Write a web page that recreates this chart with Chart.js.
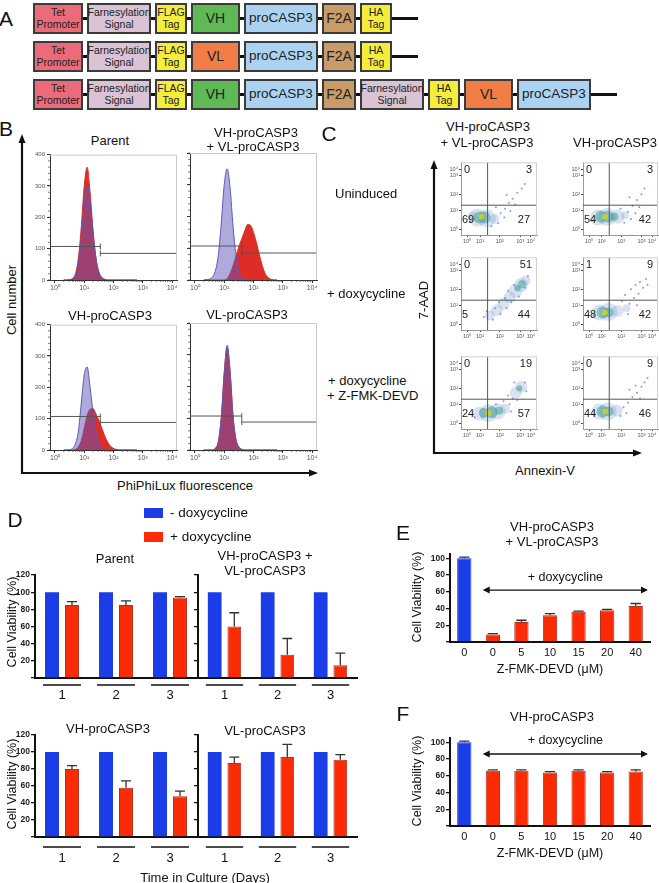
<!DOCTYPE html>
<html>
<head>
<meta charset="utf-8">
<script src="https://cdn.jsdelivr.net/npm/chart.js@4.4.0/dist/chart.umd.min.js"></script>
<style>
body { margin: 0; background: #fff; }
#fig { position: relative; width: 659px; height: 883px; overflow: hidden; background: #fff;
       font-family: Arial, "Liberation Sans", sans-serif; color: #111; }
.t { position: absolute; white-space: nowrap; line-height: 1; }
canvas { position: absolute; }
.box { position: absolute; box-sizing: border-box; border: 2px solid #3b3b3b; display: flex;
       align-items: center; justify-content: center; text-align: center; line-height: 1.05;
       white-space: pre-line; color: #222; }
</style>
</head>
<body>
<div id="fig"></div>
<script>
// ---------- data ----------
// panel A constructs
const constructRow1 = ['Tet Promoter', 'Farnesylation Signal', 'FLAG Tag', 'VH', 'proCASP3', 'F2A', 'HA Tag'];
const constructRow2 = ['Tet Promoter', 'Farnesylation Signal', 'FLAG Tag', 'VL', 'proCASP3', 'F2A', 'HA Tag'];
const constructRow3 = ['Tet Promoter', 'Farnesylation Signal', 'FLAG Tag', 'VH', 'proCASP3', 'F2A',
                       'Farnesylation Signal', 'HA Tag', 'VL', 'proCASP3'];

// panel B histograms (log10 fluorescence vs cell number)
const histLogs   = [0.3,0.4,0.5,0.6,0.7,0.8,0.9,1.0,1.1,1.2,1.3,1.4,1.5,1.6,1.7,1.8,1.9,2.0,2.1,2.2,2.3,2.4,2.5,2.6,2.7,2.8];
const parentBlue = [0,0,1,4,15,50,130,240,300,250,150,70,25,8,2,0,0,0,0,0,0,0,0,0,0,0];
const parentRed  = [0,0,1,5,20,70,170,300,360,280,160,70,25,8,2,0,0,0,0,0,0,0,0,0,0,0];
const vhvlBlue   = [0,1,3,10,30,80,180,300,350,290,170,80,30,10,3,0,0,0,0,0,0,0,0,0,0,0];
const vhvlRed    = [0,0,0,0,0,0,0,0,5,20,45,75,105,130,155,175,172,150,118,80,45,20,8,2,0,0];
const vhBlue     = [0,0,1,5,20,60,150,240,265,200,120,60,25,8,2,0,0,0,0,0,0,0,0,0,0,0];
const vhRed      = [0,0,0,0,2,10,30,70,110,130,132,115,95,70,45,25,12,5,2,0,0,0,0,0,0,0];
const vlBlue     = [0,0,0,0,5,25,100,240,330,250,110,35,10,2,0,0,0,0,0,0,0,0,0,0,0,0];
const vlRed      = [0,0,0,0,6,28,105,245,325,245,105,32,9,2,0,0,0,0,0,0,0,0,0,0,0,0];
const decadeTicks  = [0, 1, 2, 3, 4];
const decadeLabels = ['10⁰', '10¹', '10²', '10³', '10⁴'];
const countTicks   = [0, 100, 200, 300, 400];
// gate: [split (log), left level, right level]
const gateParent = [1.55, 107, 85];
const gateVhvl   = [1.6, 107, 85];
const gateVh     = [1.55, 107, 88];
const gateVl     = [1.6, 107, 88];

// panel C flow plots: biexponential display positions (0-100) of the decade ticks
const flowXTicks = [8, 25, 51, 78, 92];
const flowYTicks = [7, 34, 56, 82, 90];
const quadX = 35, quadY = 41;
// quadrant percentages [UL, UR, LL, LR]
const quadUninducedVhvl = [0, 3, 69, 27];
const quadUninducedVh   = [0, 3, 54, 42];
const quadDoxVhvl       = [0, 51, 5, 44];
const quadDoxVh         = [1, 9, 48, 42];
const quadZVhvl         = [0, 19, 24, 57];
const quadZVh           = [0, 9, 44, 46];
// density blobs [x, y, radius px, layer 0 halo / 1 mid / 2 core / 3 sparse]
const dotsUninducedVhvl = [[22,24,9,0],[34,23,9,0],[44,22,5,0],[15,25,5,0],[24,24,6,1],[31,24,6,1],[27,25,3,2],
  [52,30,1,3],[58,36,1,3],[63,44,1,3],[68,50,1,3],[74,58,1,3],[80,64,1,3],[57,24,1,3],[49,16,1,3],[65,33,1,3],
  [46,38,1,3],[71,42,1,3],[60,55,1,3],[84,70,1,3],[12,18,1,3],[40,12,1,3]];
const dotsUninducedVh = [[20,24,8,0],[32,25,9,0],[46,25,7,0],[56,27,4,0],[24,25,6,1],[33,25,6,1],[42,25,4,1],[29,25,3,2],
  [60,32,1,3],[66,40,1,3],[72,48,1,3],[78,56,1,3],[64,22,1,3],[55,17,1,3],[70,30,1,3],[62,52,1,3],[82,64,1,3],
  [50,36,1,3],[12,20,1,3],[75,38,1,3]];
const dotsDoxVhvl = [[38,20,5,0],[47,27,6,0],[56,36,6,0],[64,45,6,0],[72,54,7,0],[79,62,7,0],[85,68,5,0],[74,57,3,1],[80,63,4,1],
  [30,18,1,3],[42,14,1,3],[52,22,1,3],[60,30,1,3],[50,38,1,3],[66,38,1,3],[70,62,1,3],[88,74,1,3],[62,54,1,3],
  [76,46,1,3],[45,30,1,3],[34,26,1,3],[84,58,1,3],[58,44,1,3]];
const dotsDoxVh = [[22,24,8,0],[34,25,9,0],[46,26,6,0],[58,30,4,0],[26,24,6,1],[34,24,5,1],[29,24,3,2],
  [62,36,1,3],[68,44,1,3],[74,50,1,3],[80,58,1,3],[70,62,1,3],[64,56,1,3],[76,66,1,3],[60,22,1,3],[52,40,1,3],
  [84,70,1,3],[72,34,1,3],[56,48,1,3],[86,62,1,3],[14,20,1,3]];
const dotsZVhvl = [[24,21,7,0],[36,22,9,0],[48,24,8,0],[58,28,5,0],[72,50,6,0],[79,58,6,0],[30,22,5,1],[40,23,6,1],
  [50,25,4,1],[77,56,3,1],[36,22,3,2],
  [64,34,1,3],[68,42,1,3],[62,46,1,3],[84,64,1,3],[70,64,1,3],[86,52,1,3],[56,38,1,3],[66,24,1,3],[46,34,1,3],
  [18,16,1,3],[74,40,1,3]];
const dotsZVh = [[22,24,8,0],[33,24,9,0],[45,25,6,0],[26,24,6,1],[34,24,5,1],[30,24,3,2],
  [54,30,1,3],[60,36,1,3],[66,44,1,3],[72,50,1,3],[78,58,1,3],[70,60,1,3],[82,64,1,3],[58,22,1,3],[62,54,1,3],
  [50,18,1,3],[76,42,1,3],[86,70,1,3],[14,20,1,3]];

// panel D viability (%)
const days = ['1', '2', '3'];
const seriesNames = ['- doxycycline', '+ doxycycline'];
const parentMinus = [100, 100, 100];
const parentPlus  = [85, 85, 94];
const parentErr   = [4, 5, 1];
const vhvlMinus   = [100, 100, 100];
const vhvlPlus    = [60, 27, 15];
const vhvlErr     = [16, 19, 14];
const vhMinus     = [100, 100, 100];
const vhPlus      = [80, 58, 48];
const vhErr       = [4, 8, 6];
const vlMinus     = [100, 100, 100];
const vlPlus      = [87, 94, 91];
const vlErr       = [7, 15, 6];

// panels E and F
const zfmkLabels = ['0', '0', '5', '10', '15', '20', '40'];
const zDox       = [false, true, true, true, true, true, true];
const eViability = [100, 9, 24, 32, 36, 38, 43];
const eErr       = [1.5, 1, 2, 2, 1, 1, 3];
const fViability = [100, 66, 66, 64, 66, 64, 65];
const fErr       = [1.5, 1, 1, 1, 1, 1, 2];

// ---------- helpers ----------
const BLUE = '#1b3de8', RED = '#fb2c05';
Chart.defaults.font.family = 'Arial, "Liberation Sans", sans-serif';
Chart.defaults.color = '#222';
const fig = document.getElementById('fig');

function text(str, x, y, size, opts = {}) {
  const d = document.createElement('div');
  d.className = 't';
  d.textContent = str;
  d.style.fontSize = size + 'px';
  d.style.left = x + 'px';
  d.style.top = y + 'px';
  if (opts.bold) d.style.fontWeight = 'bold';
  const align = opts.align || 'center';
  const tx = align === 'center' ? '-50%' : align === 'right' ? '-100%' : '0';
  d.style.transform = 'translate(' + tx + ',-50%)' + (opts.rotate ? ' rotate(' + opts.rotate + 'deg)' : '');
  fig.appendChild(d);
}

function makeChart(plot, pad, config) {
  const w = plot.r - plot.l + pad.l + pad.r, h = plot.b - plot.t + pad.t + pad.b;
  const c = document.createElement('canvas');
  c.width = w; c.height = h;
  c.style.left = (plot.l - pad.l) + 'px';
  c.style.top = (plot.t - pad.t) + 'px';
  c.style.width = w + 'px'; c.style.height = h + 'px';
  fig.appendChild(c);
  const o = config.options;
  o.responsive = false;
  o.animation = false;
  o.layout = { autoPadding: false, padding: { top: pad.t, right: pad.r, left: 0, bottom: 0 } };
  o.scales.x.afterFit = s => { s.height = pad.b; };
  o.scales.y.afterFit = s => { s.width = pad.l; };
  o.plugins = Object.assign({ legend: { display: false }, tooltip: { enabled: false } }, o.plugins || {});
  return new Chart(c, config);
}

// ---------- panel A ----------
const partInfo = {
  'Tet Promoter':         { color: '#ec6b7b', w: 50, size: 10.5, txt: 'Tet\nPromoter' },
  'Farnesylation Signal': { color: '#d9c3d4', w: 64, size: 10.5, txt: 'Farnesylation\nSignal' },
  'FLAG Tag':             { color: '#f6ec3c', w: 32, size: 10.5, txt: 'FLAG\nTag' },
  'VH':                   { color: '#5fba55', w: 49, size: 14, txt: 'VH' },
  'VL':                   { color: '#f07c46', w: 49, size: 14, txt: 'VL' },
  'proCASP3':             { color: '#abd3f1', w: 74, size: 13.5, txt: 'proCASP3' },
  'F2A':                  { color: '#c89b68', w: 34, size: 14, txt: 'F2A' },
  'HA Tag':               { color: '#f6ec3c', w: 32, size: 10.5, txt: 'HA\nTag' }
};
function construct(parts, top, tail) {
  let x = 33;
  const ln = document.createElement('div');
  ln.style.cssText = 'position:absolute;background:#111;height:3px;left:33px;top:' + (top + 14) + 'px;width:0px';
  fig.appendChild(ln);
  parts.forEach(p => {
    const info = partInfo[p];
    const b = document.createElement('div');
    b.className = 'box';
    b.textContent = info.txt;
    b.style.cssText += 'left:' + x + 'px;top:' + top + 'px;width:' + info.w + 'px;height:31px;background:' +
      info.color + ';font-size:' + info.size + 'px;';
    fig.appendChild(b);
    x += info.w + 4;
  });
  ln.style.width = (x - 33 + tail) + 'px';
}
construct(constructRow1, 3, 22);
construct(constructRow2, 41, 22);
construct(constructRow3, 79, 22);
text('A', 6, 18, 21);

// ---------- panel B ----------
const framePlugin = {
  id: 'frame',
  afterDraw(chart, args, o) {
    const { ctx, chartArea: a } = chart;
    ctx.save();
    ctx.strokeStyle = o.color;
    ctx.lineWidth = 1;
    ctx.beginPath();
    ctx.moveTo(a.left, a.top + 0.5); ctx.lineTo(a.right - 0.5, a.top + 0.5); ctx.lineTo(a.right - 0.5, a.bottom);
    ctx.stroke();
    ctx.restore();
  }
};
const minorTicks = {
  id: 'minorTicks',
  afterDraw(chart) {
    const { ctx, chartArea: a, scales: { x, y } } = chart;
    ctx.save();
    ctx.strokeStyle = '#444';
    ctx.lineWidth = 0.7;
    ctx.beginPath();
    for (let d = 0; d < 4; d++) for (let k = 2; k < 10; k++) {
      const px = x.getPixelForValue(d + Math.log10(k));
      ctx.moveTo(px, a.bottom); ctx.lineTo(px, a.bottom + 2);
    }
    for (let v = 0; v <= 400; v += 20) {
      const py = y.getPixelForValue(v);
      ctx.moveTo(a.left, py); ctx.lineTo(a.left - 2, py);
    }
    ctx.stroke();
    ctx.restore();
  }
};
const gatePlugin = {
  id: 'gate',
  afterDatasetsDraw(chart, args, o) {
    const { ctx, chartArea: a, scales: { x, y } } = chart;
    const g = o.values;
    const sx = x.getPixelForValue(g[0]), yl = y.getPixelForValue(g[1]), yr = y.getPixelForValue(g[2]);
    ctx.save();
    ctx.strokeStyle = '#555';
    ctx.lineWidth = 1;
    ctx.beginPath();
    ctx.moveTo(a.left, yl); ctx.lineTo(sx, yl);
    ctx.moveTo(sx, yl - 3); ctx.lineTo(sx, yl + 3);
    ctx.moveTo(sx, yr); ctx.lineTo(a.right, yr);
    ctx.moveTo(sx, yr - 3); ctx.lineTo(sx, yr + 3);
    ctx.moveTo(a.right - 0.5, yr - 3); ctx.lineTo(a.right - 0.5, yr + 3);
    ctx.stroke();
    ctx.restore();
  }
};

function histChart(plot, blue, red, gate, showY) {
  const pts = arr => histLogs.map((x, i) => ({ x: x, y: arr[i] }));
  return makeChart(plot, { l: 22, r: 4, t: 4, b: 18 }, {
    type: 'line',
    data: { datasets: [
      { data: pts(blue), borderColor: '#5b58b8', borderWidth: 1, backgroundColor: 'rgba(95,85,185,0.5)',
        fill: 'origin', pointRadius: 0, cubicInterpolationMode: 'monotone' },
      { data: pts(red), borderColor: '#d33326', borderWidth: 1, backgroundColor: 'rgb(222,45,38)',
        fill: 'origin', pointRadius: 0, cubicInterpolationMode: 'monotone' }
    ] },
    options: {
      plugins: { frame: { color: '#c9c9c9' }, gate: { values: gate } },
      scales: {
        x: { type: 'linear', min: -0.17, max: 4.17,
             afterBuildTicks: s => { s.ticks = decadeTicks.map(v => ({ value: v })); },
             ticks: { callback: (v, i) => decadeLabels[i], font: { size: 7 }, color: '#555', padding: 1, maxRotation: 0 },
             grid: { drawOnChartArea: false, tickLength: 3, color: '#333' },
             border: { color: '#333' } },
        y: { min: 0, max: 400,
             afterBuildTicks: s => { s.ticks = countTicks.map(v => ({ value: v })); },
             ticks: { display: showY, font: { size: 6 }, color: '#555', padding: 2 },
             grid: { drawOnChartArea: false, tickLength: 3, color: '#333' },
             border: { color: '#333' } }
      }
    },
    plugins: [framePlugin, minorTicks, gatePlugin]
  });
}
histChart({ l: 50, r: 177, t: 153, b: 280 }, parentBlue, parentRed, gateParent, true);
histChart({ l: 190, r: 317, t: 153, b: 280 }, vhvlBlue, vhvlRed, gateVhvl, false);
histChart({ l: 50, r: 177, t: 323, b: 450 }, vhBlue, vhRed, gateVh, true);
histChart({ l: 190, r: 317, t: 323, b: 450 }, vlBlue, vlRed, gateVl, false);

text('B', 6, 128, 21);
text('Parent', 110, 140, 13);
text('VH-proCASP3', 256, 132, 13);
text('+ VL-proCASP3', 253, 146, 13);
text('VH-proCASP3', 110, 315, 13);
text('VL-proCASP3', 247, 314, 13);
text('Uninduced', 335, 193, 13, { align: 'left' });
text('+ doxycycline', 327, 293, 13, { align: 'left' });
text('+ doxycycline', 328, 380, 13, { align: 'left' });
text('+ Z-FMK-DEVD', 327, 395, 13, { align: 'left' });
text('Cell number', 11, 300, 13, { rotate: -90 });
text('PhiPhiLux fluorescence', 185, 485, 13);

// ---------- panel C ----------
const layerColors = ['rgba(120,150,210,0.28)', 'rgba(70,165,150,0.55)', 'rgba(205,205,60,0.9)', 'rgba(95,125,190,0.75)'];
const layerOrder = [2, 1, 3, 0]; // drawn top to bottom
const quadPlugin = {
  id: 'quad',
  afterDatasetsDraw(chart, args, o) {
    const { ctx, chartArea: a, scales: { x, y } } = chart;
    const qx = x.getPixelForValue(quadX), qy = y.getPixelForValue(quadY);
    ctx.save();
    ctx.strokeStyle = '#555';
    ctx.lineWidth = 1;
    ctx.beginPath();
    ctx.moveTo(qx, a.top); ctx.lineTo(qx, a.bottom);
    ctx.moveTo(a.left, qy); ctx.lineTo(a.right, qy);
    ctx.stroke();
    const q = o.values;
    ctx.fillStyle = '#222';
    ctx.font = '11px Arial, "Liberation Sans", sans-serif';
    ctx.textBaseline = 'middle';
    ctx.textAlign = 'left';
    ctx.fillText(String(q[0]), a.left + 3, a.top + 8);
    ctx.fillText(String(q[2]), a.left + 1, a.bottom - 15);
    ctx.textAlign = 'right';
    ctx.fillText(String(q[1]), a.right - 5, a.top + 8);
    ctx.fillText(String(q[3]), a.right - 7, a.bottom - 15);
    ctx.restore();
  }
};
function flowChart(plot, dots, quad) {
  return makeChart(plot, { l: 14, r: 1, t: 3, b: 11 }, {
    type: 'bubble',
    data: { datasets: layerOrder.map(k => ({
      data: dots.filter(d => d[3] === k).map(d => ({ x: d[0], y: d[1], r: d[2] })),
      backgroundColor: layerColors[k], borderWidth: 0
    })) },
    options: {
      plugins: { frame: { color: '#cfcfcf' }, quad: { values: quad } },
      scales: {
        x: { type: 'linear', min: 0, max: 100,
             afterBuildTicks: s => { s.ticks = flowXTicks.map(v => ({ value: v })); },
             ticks: { callback: (v, i) => decadeLabels[i], font: { size: 5.5 }, color: '#555', padding: 1, maxRotation: 0 },
             grid: { drawOnChartArea: false, tickLength: 2, color: '#444' }, border: { color: '#999' } },
        y: { type: 'linear', min: 0, max: 100,
             afterBuildTicks: s => { s.ticks = flowYTicks.map(v => ({ value: v })); },
             ticks: { callback: (v, i) => decadeLabels[i], font: { size: 5.5 }, color: '#555', padding: 1 },
             grid: { drawOnChartArea: false, tickLength: 2, color: '#444' }, border: { color: '#999' } }
      }
    },
    plugins: [quadPlugin, framePlugin]
  });
}
const flowCols = [[461, 537], [583, 658]];
const flowRows = [[161, 235], [256, 330], [355, 429]];
const flowSets = [
  [dotsUninducedVhvl, quadUninducedVhvl, dotsUninducedVh, quadUninducedVh],
  [dotsDoxVhvl, quadDoxVhvl, dotsDoxVh, quadDoxVh],
  [dotsZVhvl, quadZVhvl, dotsZVh, quadZVh]
];
flowRows.forEach((row, ri) => {
  flowChart({ l: flowCols[0][0], r: flowCols[0][1], t: row[0], b: row[1] }, flowSets[ri][0], flowSets[ri][1]);
  flowChart({ l: flowCols[1][0], r: flowCols[1][1], t: row[0], b: row[1] }, flowSets[ri][2], flowSets[ri][3]);
});
text('C', 329, 133, 21);
text('VH-proCASP3', 488, 126, 13);
text('+ VL-proCASP3', 487, 142, 13);
text('VH-proCASP3', 615, 142, 13);
text('7-AAD', 423, 300, 13, { rotate: -90 });
text('Annexin-V', 545, 470, 13);

// axis arrows for B and C
fig.insertAdjacentHTML('beforeend',
  '<svg width="659" height="883" style="position:absolute;left:0;top:0">' +
  '<path d="M22 141 L22 473 L311 473" fill="none" stroke="#111" stroke-width="2.2"/>' +
  '<polygon points="22,134 18.5,143 25.5,143" fill="#111"/>' +
  '<polygon points="318,473 309,469.5 309,476.5" fill="#111"/>' +
  '<path d="M434 167 L434 453 L635 453" fill="none" stroke="#111" stroke-width="2.2"/>' +
  '<polygon points="434,160 430.5,169 437.5,169" fill="#111"/>' +
  '<polygon points="642,453 633,449.5 633,456.5" fill="#111"/>' +
  '</svg>');

// ---------- panel D ----------
const errorBars = {
  id: 'errorBars',
  afterDatasetsDraw(chart) {
    const { ctx } = chart;
    const ys = chart.scales.y;
    chart.data.datasets.forEach((ds, di) => {
      if (!ds.errors) return;
      chart.getDatasetMeta(di).data.forEach((bar, i) => {
        const top = ys.getPixelForValue(ds.data[i] + ds.errors[i]);
        const half = bar.width * 0.36;
        ctx.save();
        ctx.strokeStyle = '#333';
        ctx.lineWidth = 1.3;
        ctx.beginPath();
        ctx.moveTo(bar.x, bar.y); ctx.lineTo(bar.x, top);
        ctx.moveTo(bar.x - half, top); ctx.lineTo(bar.x + half, top);
        ctx.stroke();
        ctx.restore();
      });
    });
  }
};
const groupLines = {
  id: 'groupLines',
  afterDraw(chart, args, o) {
    const { ctx } = chart;
    const m0 = chart.getDatasetMeta(0), m1 = chart.getDatasetMeta(1);
    const y = chart.chartArea.bottom + o.offset;
    ctx.save();
    ctx.strokeStyle = '#111';
    ctx.lineWidth = 1.5;
    ctx.beginPath();
    m0.data.forEach((b, i) => {
      const r = m1.data[i];
      ctx.moveTo(b.x - b.width / 2 - 2, y);
      ctx.lineTo(r.x + r.width / 2 + 2, y);
    });
    ctx.stroke();
    ctx.restore();
  }
};
function viabilityChart(plot, minus, plus, err, showY, lineOffset, labelPad) {
  return makeChart(plot, { l: showY ? 27 : 6, r: 3, t: 6, b: 30 }, {
    type: 'bar',
    data: { labels: days, datasets: [
      { label: seriesNames[0], data: minus, backgroundColor: BLUE, categoryPercentage: 0.74, barPercentage: 0.7 },
      { label: seriesNames[1], data: plus, errors: err, backgroundColor: RED, borderColor: '#b3301c', borderWidth: 1,
        categoryPercentage: 0.74, barPercentage: 0.7 }
    ] },
    options: {
      plugins: { groupLines: { offset: lineOffset } },
      scales: {
        x: { grid: { display: false, drawTicks: false }, border: { color: '#111', width: 2 },
             ticks: { font: { size: 13 }, color: '#111', padding: labelPad } },
        y: { min: 0, max: 120, ticks: { stepSize: 20, display: showY, callback: v => (v > 0 ? v : ''),
             font: { size: 8.5, weight: 'bold' }, color: '#222', padding: 1 },
             grid: { drawOnChartArea: false, tickLength: 4, color: '#111', lineWidth: 1.3 },
             border: { color: '#111', width: 2 } }
      }
    },
    plugins: [errorBars, groupLines]
  });
}
viabilityChart({ l: 35, r: 197, t: 575, b: 678 }, parentMinus, parentPlus, parentErr, true, 7, 10);
viabilityChart({ l: 198, r: 357, t: 575, b: 678 }, vhvlMinus, vhvlPlus, vhvlErr, false, 7, 10);
viabilityChart({ l: 35, r: 197, t: 735, b: 837 }, vhMinus, vhPlus, vhErr, true, 10, 14);
viabilityChart({ l: 198, r: 357, t: 735, b: 837 }, vlMinus, vlPlus, vlErr, false, 10, 14);

text('D', 15, 519, 21);
// legend
[BLUE, RED].forEach((c, i) => {
  const sq = document.createElement('div');
  sq.style.cssText = 'position:absolute;left:144px;width:19px;height:10px;background:' + c + ';top:' + (508 + i * 24) + 'px';
  fig.appendChild(sq);
  text(seriesNames[i], 170, 513 + i * 24, 13.5, { align: 'left' });
});
text('Parent', 115, 558, 13);
text('VH-proCASP3 +', 265, 555, 13);
text('VL-proCASP3', 265, 570, 13);
text('VH-proCASP3', 108, 728, 13);
text('VL-proCASP3', 265, 730, 13);
text('Cell Viability (%)', 12, 622, 12.5, { rotate: -90 });
text('Cell Viability (%)', 12, 784, 12.5, { rotate: -90 });
text('Time in Culture (Days)', 205, 877, 13);

// ---------- panels E and F ----------
const doxArrow = {
  id: 'doxArrow',
  afterDraw(chart, args, o) {
    const { ctx, chartArea: a, scales: { y } } = chart;
    const b = chart.getDatasetMeta(0).data[1];
    const x0 = b.x - b.width / 2 - 3, x1 = a.right - 2;
    const py = y.getPixelForValue(o.level);
    ctx.save();
    ctx.strokeStyle = '#111';
    ctx.fillStyle = '#111';
    ctx.lineWidth = 1.3;
    ctx.beginPath();
    ctx.moveTo(x0 + 5, py); ctx.lineTo(x1 - 5, py);
    ctx.stroke();
    ctx.beginPath();
    ctx.moveTo(x0, py); ctx.lineTo(x0 + 7, py - 3.5); ctx.lineTo(x0 + 7, py + 3.5); ctx.closePath();
    ctx.moveTo(x1, py); ctx.lineTo(x1 - 7, py - 3.5); ctx.lineTo(x1 - 7, py + 3.5); ctx.closePath();
    ctx.fill();
    ctx.font = '12.5px Arial, "Liberation Sans", sans-serif';
    ctx.textAlign = 'center';
    ctx.textBaseline = 'middle';
    ctx.fillText(o.label, (x0 + x1) / 2, py - 13);
    ctx.restore();
  }
};
function zfmkChart(plot, values, err, arrowLevel) {
  return makeChart(plot, { l: 22, r: 6, t: 4, b: 20 }, {
    type: 'bar',
    data: { labels: zfmkLabels, datasets: [
      { data: values, errors: err, backgroundColor: zDox.map(f => (f ? RED : BLUE)),
        borderColor: zDox.map(f => (f ? '#b3301c' : BLUE)), borderWidth: 1,
        categoryPercentage: 1, barPercentage: 0.5 }
    ] },
    options: {
      plugins: { doxArrow: { level: arrowLevel, label: '+ doxycycline' } },
      scales: {
        x: { grid: { display: false, drawTicks: false }, border: { color: '#111', width: 2 },
             ticks: { font: { size: 11 }, color: '#111', padding: 4 } },
        y: { min: 0, max: 105, afterBuildTicks: s => { s.ticks = [0, 20, 40, 60, 80, 100].map(v => ({ value: v })); },
             ticks: { callback: v => (v > 0 ? v : ''), font: { size: 8.5, weight: 'bold' }, color: '#222', padding: 1 },
             grid: { drawOnChartArea: false, tickLength: 4, color: '#111', lineWidth: 1.3 },
             border: { color: '#111', width: 2 } }
      }
    },
    plugins: [errorBars, doxArrow]
  });
}
zfmkChart({ l: 450, r: 650, t: 552, b: 642 }, eViability, eErr, 62);
zfmkChart({ l: 450, r: 650, t: 736, b: 826 }, fViability, fErr, 86);

text('E', 403, 532, 21);
text('VH-proCASP3', 552, 526, 13);
text('+ VL-proCASP3', 552, 541, 13);
text('Cell Viability (%)', 417, 597, 12.5, { rotate: -90 });
text('Z-FMK-DEVD (μM)', 550, 669, 12.5);
text('F', 403, 713, 21);
text('VH-proCASP3', 552, 716, 13);
text('Cell Viability (%)', 417, 781, 12.5, { rotate: -90 });
text('Z-FMK-DEVD (μM)', 550, 853, 12.5);
</script>
</body>
</html>
